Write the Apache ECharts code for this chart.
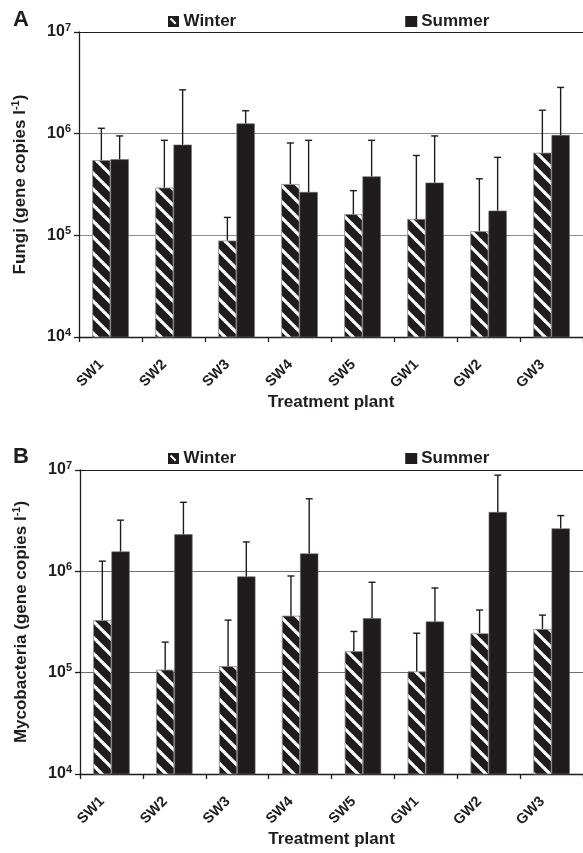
<!DOCTYPE html>
<html>
<head>
<meta charset="utf-8">
<script src="https://cdn.jsdelivr.net/npm/echarts@6/dist/echarts.min.js"></script>
<style>
  html, body { margin: 0; padding: 0; background: #fff; }
  #chart { width: 583px; height: 853px; }
</style>
</head>
<body>
<div id="chart"></div>
<script>
    // treatment plants (x categories)
    var plants = ['SW1', 'SW2', 'SW3', 'SW4', 'SW5', 'GW1', 'GW2', 'GW3'];
    var yTicks = [1e4, 1e5, 1e6, 1e7];

    // panel A - fungi, gene copies per litre
    var fungiWinter    = [5.5e5, 2.95e5, 8.9e4, 3.2e5, 1.62e5, 1.45e5, 1.1e5, 6.5e5];
    var fungiWinterErr = [1.13e6, 8.6e5, 1.5e5, 8.1e5, 2.75e5, 6.1e5, 3.6e5, 1.7e6];
    var fungiSummer    = [5.6e5, 7.8e5, 1.26e6, 2.67e5, 3.8e5, 3.3e5, 1.75e5, 9.7e5];
    var fungiSummerErr = [9.5e5, 2.7e6, 1.68e6, 8.6e5, 8.6e5, 9.5e5, 5.85e5, 2.85e6];

    // panel B - mycobacteria
    var mycoWinter    = [3.3e5, 1.07e5, 1.16e5, 3.65e5, 1.63e5, 1.03e5, 2.45e5, 2.7e5];
    var mycoWinterErr = [1.26e6, 2.0e5, 3.3e5, 9.0e5, 2.55e5, 2.45e5, 4.15e5, 3.7e5];
    var mycoSummer    = [1.57e6, 2.32e6, 8.9e5, 1.5e6, 3.45e5, 3.2e5, 3.85e6, 2.65e6];
    var mycoSummerErr = [3.2e6, 4.8e6, 1.95e6, 5.2e6, 7.8e5, 6.85e5, 8.9e6, 3.55e6];

    var INK = '#1e1c1d';
    var FONT = 'Liberation Sans, Arial, sans-serif';
    var BAR_W = 0.29;   // share of category band per bar

    // black with white "\" stripes for winter bars
    function hatch() {
        var c = document.createElement('canvas');
        c.width = 16; c.height = 16;
        var g = c.getContext('2d');
        g.fillStyle = INK;
        g.fillRect(0, 0, 16, 16);
        g.strokeStyle = '#fff';
        g.lineWidth = 3.2;
        [-16, 0, 16].forEach(function (k) {
            g.beginPath();
            g.moveTo(-2, -2 + k);
            g.lineTo(18, 18 + k);
            g.stroke();
        });
        return { image: c, repeat: 'repeat' };
    }
    var hatchFill = hatch();

    function errData(vals, tops) {
        return vals.map(function (v, i) { return [i, v, tops[i]]; });
    }

    function errSeries(gi, side, vals, tops) {
        return {
            type: 'custom',
            xAxisIndex: gi, yAxisIndex: gi,
            silent: true, z: 5,
            data: errData(vals, tops),
            renderItem: function (params, api) {
                var i = api.value(0);
                var p0 = api.coord([i, api.value(1)]);
                var p1 = api.coord([i, api.value(2)]);
                var band = api.coord([1, api.value(1)])[0] - api.coord([0, api.value(1)])[0];
                var x = p0[0] + side * band * BAR_W / 2;
                var st = { stroke: INK, lineWidth: 1.4 };
                return {
                    type: 'group',
                    children: [
                        { type: 'line', shape: { x1: x, y1: p0[1], x2: x, y2: p1[1] }, style: st },
                        { type: 'line', shape: { x1: x - 3.5, y1: p1[1], x2: x + 3.5, y2: p1[1] }, style: st }
                    ]
                };
            }
        };
    }

    function yAxis(gi, title, gridColor) {
        return {
            type: 'log', gridIndex: gi, logBase: 10,
            min: 1e4, max: 1e7,
            name: title,
            nameLocation: 'middle', nameGap: 49,
            nameTextStyle: {
                rich: {
                    t: { fontFamily: FONT, fontSize: 17, fontWeight: 'bold', color: INK, lineHeight: 20 },
                    s: { fontFamily: FONT, fontSize: 11, fontWeight: 'bold', color: INK, verticalAlign: 'top', lineHeight: 12 }
                }
            },
            axisLine: { show: true, lineStyle: { color: INK, width: 1.3 } },
            axisTick: { show: true, length: 5, lineStyle: { color: INK, width: 1.3 } },
            minorTick: { show: false },
            axisLabel: {
                margin: 8,
                formatter: function (v) {
                    return '{b|10}{s|' + Math.round(Math.log10(v)) + '}';
                },
                rich: {
                    b: { fontFamily: FONT, fontSize: 16, fontWeight: 'bold', color: INK, lineHeight: 20 },
                    s: { fontFamily: FONT, fontSize: 11, fontWeight: 'bold', color: INK, verticalAlign: 'top', lineHeight: 12 }
                }
            },
            splitLine: { show: true, lineStyle: { color: ['#888', gridColor, gridColor, INK], width: 1.2 } }
        };
    }

    function xAxis(gi) {
        return {
            type: 'category', gridIndex: gi, data: plants,
            name: 'Treatment plant', nameLocation: 'middle', nameGap: 55,
            nameTextStyle: { fontFamily: FONT, fontSize: 17, fontWeight: 'bold', color: INK },
            axisLine: { lineStyle: { color: INK, width: 1.3 } },
            axisTick: { show: true, length: 5, lineStyle: { color: INK, width: 1.3 } },
            axisLabel: {
                interval: 0, rotate: 45, margin: 16, padding: [0, 13, 0, 0],
                fontFamily: FONT, fontSize: 14.5, fontWeight: 'bold', color: INK
            }
        };
    }

    function barPair(gi, winter, summer) {
        return [{
            name: 'Winter', type: 'bar', xAxisIndex: gi, yAxisIndex: gi,
            barWidth: (BAR_W * 100) + '%', barGap: '0%',
            itemStyle: { color: hatchFill, borderColor: '#8a8a8a', borderWidth: 0.8 },
            data: winter
        }, {
            name: 'Summer', type: 'bar', xAxisIndex: gi, yAxisIndex: gi,
            barWidth: (BAR_W * 100) + '%', barGap: '0%',
            itemStyle: { color: INK, borderColor: '#6a6a6a', borderWidth: 0.6 },
            data: summer
        }];
    }

    var winterIcon = 'path://M0,0 L12,0 L12,12 L0,12 Z M2,3.6 L7.6,9.2 L9.2,7.6 L3.6,2 Z';

    function legend(top) {
        return {
            top: top, left: 163, itemGap: 169, itemWidth: 12, itemHeight: 11,
            selectedMode: false,
            textStyle: { fontFamily: FONT, fontSize: 17, fontWeight: 'bold', color: INK, padding: [0, 0, 0, -1] },
            data: [
                { name: 'Winter', icon: winterIcon, itemStyle: { color: INK, borderWidth: 0 } },
                { name: 'Summer', icon: 'rect', itemStyle: { color: INK, borderWidth: 0 } }
            ]
        };
    }

    var option = {
        animation: false,
        backgroundColor: '#fff',
        title: [
            { text: 'A', left: 8, top: 4, textStyle: { fontFamily: FONT, fontSize: 22, fontWeight: 'bold', color: INK } },
            { text: 'B', left: 8, top: 441, textStyle: { fontFamily: FONT, fontSize: 22, fontWeight: 'bold', color: INK } }
        ],
        legend: [legend(8), legend(445)],
        grid: [
            { left: 79, top: 32, width: 504, height: 305 },
            { left: 80, top: 470, width: 503, height: 304 }
        ],
        xAxis: [xAxis(0), xAxis(1)],
        yAxis: [
            yAxis(0, '{t|Fungi (gene copies l}{s|-1}{t|)}', '#8c8c8c'),
            yAxis(1, '{t|Mycobacteria (gene copies l}{s|-1}{t|)}', '#6e6e6e')
        ],
        series: []
            .concat(barPair(0, fungiWinter, fungiSummer))
            .concat(barPair(1, mycoWinter, mycoSummer))
            .concat([
                errSeries(0, -1, fungiWinter, fungiWinterErr),
                errSeries(0, 1, fungiSummer, fungiSummerErr),
                errSeries(1, -1, mycoWinter, mycoWinterErr),
                errSeries(1, 1, mycoSummer, mycoSummerErr)
            ])
    };

    var myChart = echarts.init(document.getElementById('chart'));
    myChart.setOption(option);
</script>
</body>
</html>
